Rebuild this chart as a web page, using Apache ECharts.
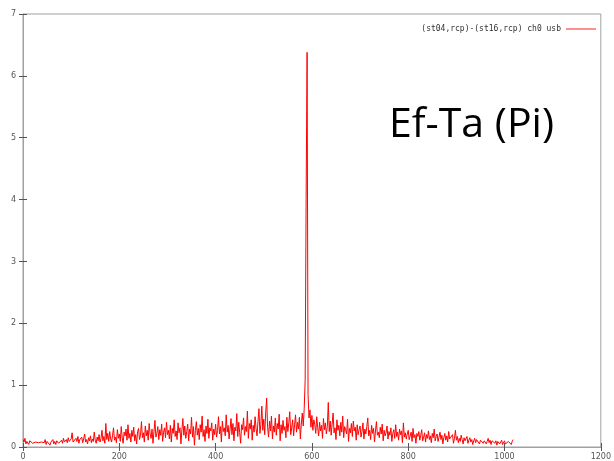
<!DOCTYPE html>
<html>
<head>
<meta charset="utf-8">
<script src="https://cdn.jsdelivr.net/npm/echarts@6/dist/echarts.min.js"></script>
<style>
  html, body { margin: 0; padding: 0; background: #fff; }
  #chart { width: 614px; height: 461px; }
</style>
</head>
<body>
<div id="chart"></div>
<script>
// Channel spacing of the sampled spectrum
const channelStep = 2;

// Amplitude per sampled channel (channel = index * channelStep)
const amplitude = [
  0.12,0.08,0.14,0.05,0.09,0.11,0.04,0.10,0.07,0.13,
  0.06,0.09,0.03,0.08,0.11,0.05,0.07,0.10,0.04,0.08,
  0.10,0.05,0.07,0.12,0.04,0.09,0.06,0.11,0.03,0.08,
  0.07,0.12,0.05,0.09,0.04,0.10,0.13,0.06,0.08,0.05,
  0.11,0.06,0.14,0.08,0.05,0.12,0.07,0.15,0.09,0.06,
  0.13,0.23,0.08,0.11,0.05,0.14,0.09,0.17,0.06,0.12,
  0.10,0.16,0.07,0.13,0.21,0.08,0.12,0.05,0.15,0.10,
  0.18,0.07,0.13,0.09,0.24,0.11,0.06,0.16,0.10,0.20,
  0.08,0.14,0.27,0.10,0.17,0.06,0.38,0.12,0.22,0.09,
  0.25,0.13,0.08,0.19,0.31,0.11,0.16,0.07,0.28,0.14,
  0.21,0.09,0.33,0.15,0.06,0.24,0.18,0.29,0.11,0.36,
  0.14,0.22,0.08,0.27,0.17,0.32,0.10,0.20,0.05,0.25,
  0.30,0.12,0.19,0.41,0.15,0.23,0.08,0.34,0.18,0.27,
  0.11,0.38,0.21,0.14,0.29,0.06,0.25,0.43,0.16,0.22,
  0.33,0.12,0.28,0.19,0.37,0.09,0.24,0.31,0.15,0.40,
  0.20,0.27,0.13,0.35,0.08,0.30,0.22,0.44,0.17,0.26,
  0.12,0.39,0.23,0.31,0.05,0.28,0.46,0.19,0.34,0.14,
  0.25,0.37,0.10,0.29,0.21,0.48,0.16,0.33,0.03,0.27,
  0.41,0.19,0.30,0.12,0.36,0.24,0.50,0.17,0.28,0.09,
  0.34,0.22,0.45,0.14,0.31,0.26,0.39,0.11,0.29,0.20,
  0.37,0.16,0.27,0.49,0.21,0.33,0.08,0.42,0.25,0.31,
  0.18,0.52,0.24,0.35,0.13,0.29,0.46,0.20,0.38,0.10,
  0.32,0.26,0.54,0.17,0.40,0.23,0.06,0.36,0.28,0.47,
  0.19,0.33,0.25,0.58,0.14,0.38,0.29,0.44,0.11,0.35,
  0.24,0.49,0.30,0.18,0.41,0.62,0.22,0.37,0.66,0.27,
  0.45,0.20,0.55,0.79,0.31,0.16,0.42,0.26,0.50,0.13,
  0.34,0.24,0.47,0.19,0.38,0.29,0.53,0.10,0.36,0.22,
  0.43,0.27,0.33,0.15,0.48,0.25,0.39,0.57,0.20,0.31,
  0.44,0.18,0.36,0.52,0.24,0.40,0.29,0.48,0.13,0.37,
  0.55,0.34,0.62,1.08,4.02,6.38,0.85,0.47,0.60,0.32,
  0.51,0.27,0.44,0.36,0.22,0.49,0.31,0.18,0.40,0.26,
  0.35,0.14,0.46,0.28,0.39,0.21,0.33,0.72,0.25,0.42,
  0.19,0.37,0.55,0.23,0.31,0.12,0.44,0.27,0.35,0.18,
  0.40,0.24,0.50,0.15,0.33,0.28,0.21,0.45,0.09,0.30,
  0.23,0.38,0.17,0.42,0.26,0.32,0.11,0.36,0.20,0.28,
  0.34,0.16,0.25,0.39,0.13,0.29,0.21,0.33,0.47,0.18,
  0.27,0.12,0.35,0.22,0.30,0.08,0.26,0.41,0.19,0.24,
  0.15,0.32,0.21,0.37,0.10,0.27,0.18,0.23,0.34,0.13,
  0.25,0.19,0.31,0.09,0.22,0.28,0.14,0.36,0.17,0.24,
  0.11,0.29,0.20,0.26,0.07,0.39,0.16,0.23,0.13,0.21,
  0.27,0.12,0.18,0.24,0.09,0.30,0.15,0.20,0.06,0.22,
  0.17,0.25,0.11,0.19,0.28,0.10,0.16,0.23,0.08,0.20,
  0.14,0.26,0.12,0.18,0.07,0.22,0.15,0.29,0.10,0.17,
  0.21,0.09,0.16,0.24,0.12,0.19,0.05,0.15,0.22,0.11,
  0.18,0.08,0.25,0.13,0.16,0.10,0.20,0.06,0.14,0.27,
  0.11,0.17,0.07,0.14,0.09,0.19,0.12,0.05,0.15,0.10,
  0.13,0.17,0.06,0.11,0.15,0.08,0.12,0.04,0.10,0.14,
  0.07,0.12,0.09,0.15,0.05,0.11,0.08,0.13,0.06,0.10,
  0.12,0.05,0.09,0.14,0.07,0.11,0.04,0.10,0.08,0.13,
  0.06,0.10,0.03,0.09,0.12,0.05,0.08,0.11,0.04,0.07,
  0.10,0.05,0.08,0.03,0.09,0.11,0.06,0.04,0.09,0.12,
  0.10
];

const seriesName = '(st04,rcp)-(st16,rcp) ch0 usb';
const titleText = 'Ef-Ta (Pi)';

const xTicks = { min: 0, max: 1200, interval: 200 };
const yTicks = { min: 0, max: 7, interval: 1 };

const points = amplitude.map((v, i) => [i * channelStep, v]);

const frameColor = '#a0a0a0';
const labelStyle = { color: '#555', fontFamily: 'DejaVu Sans', fontSize: 8 };
const tickStyle = { show: true, inside: true, length: 4, lineStyle: { color: '#555' } };
const plainNumber = v => String(v);

const chart = echarts.init(document.getElementById('chart'), null, { renderer: 'canvas' });
chart.setOption({
  animation: false,
  backgroundColor: '#fff',
  grid: {
    left: 23, right: 11, top: 14, bottom: 14,
    show: true, borderColor: frameColor, borderWidth: 1, backgroundColor: 'transparent'
  },
  legend: {
    show: true,
    right: 13, top: 20,
    align: 'right',
    itemWidth: 30, itemHeight: 2,
    icon: 'rect',
    textStyle: { fontFamily: 'DejaVu Sans Mono', fontSize: 8, color: '#333' },
    data: [{ name: seriesName, itemStyle: { color: '#ff9090' } }]
  },
  xAxis: [
    {
      type: 'value', position: 'bottom',
      min: xTicks.min, max: xTicks.max, interval: xTicks.interval,
      axisLine: { show: true, lineStyle: { color: frameColor } },
      axisTick: tickStyle,
      axisLabel: Object.assign({ margin: 6, showMaxLabel: true, formatter: plainNumber }, labelStyle),
      splitLine: { show: false }
    },
    {
      type: 'value', position: 'top',
      min: xTicks.min, max: xTicks.max, interval: xTicks.interval,
      axisLine: { show: false },
      axisTick: tickStyle,
      axisLabel: { show: false },
      splitLine: { show: false }
    }
  ],
  yAxis: [
    {
      type: 'value', position: 'left',
      min: yTicks.min, max: yTicks.max, interval: yTicks.interval,
      axisLine: { show: true, lineStyle: { color: frameColor } },
      axisTick: tickStyle,
      axisLabel: Object.assign({ margin: 7, formatter: plainNumber }, labelStyle),
      splitLine: { show: false }
    },
    {
      type: 'value', position: 'right',
      min: yTicks.min, max: yTicks.max, interval: yTicks.interval,
      axisLine: { show: false },
      axisTick: tickStyle,
      axisLabel: { show: false },
      splitLine: { show: false }
    }
  ],
  series: [
    {
      name: seriesName,
      type: 'line',
      data: points,
      showSymbol: false,
      symbol: 'none',
      lineStyle: { color: '#ff0000', width: 1 },
      itemStyle: { color: '#ff0000' },
      z: 3
    }
  ],
  graphic: [
    {
      type: 'text',
      left: 389, top: 105,
      style: {
        text: titleText,
        font: '41px "Open Sans", "Noto Sans", sans-serif',
        fill: '#000'
      }
    }
  ]
});
</script>
</body>
</html>
